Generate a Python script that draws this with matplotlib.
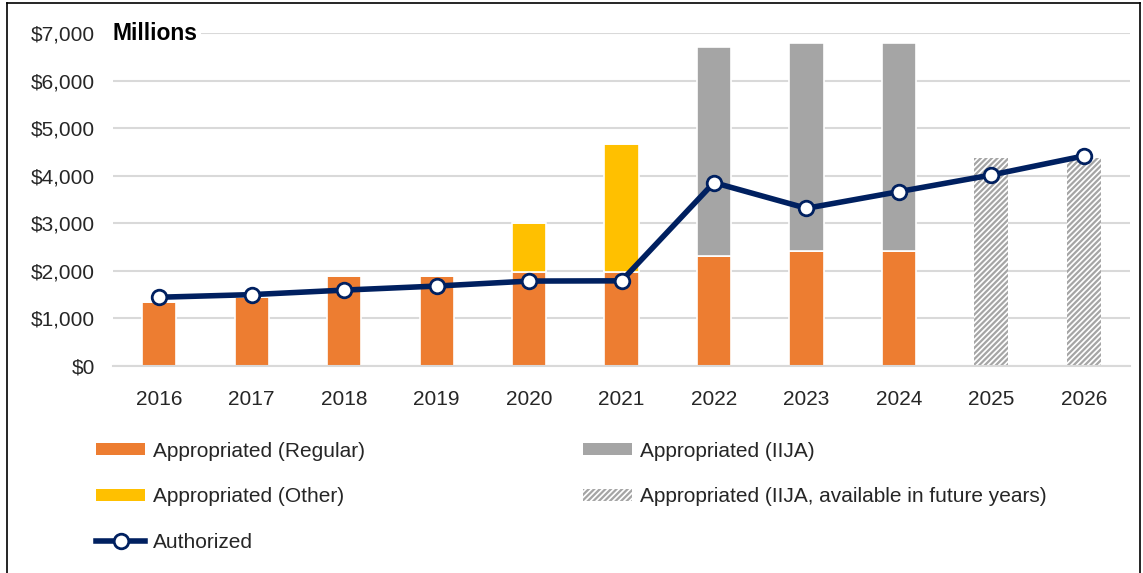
import matplotlib.pyplot as plt
import numpy as np
from matplotlib.lines import Line2D
from matplotlib.patches import Patch

plt.rcParams["font.family"] = ["Liberation Sans", "DejaVu Sans"]
plt.rcParams["hatch.linewidth"] = 1.6

years = ["2016", "2017", "2018", "2019", "2020", "2021",
         "2022", "2023", "2024", "2025", "2026"]
regular = [1350, 1440, 1890, 1890, 1975, 1975, 2310, 2420, 2420, 0, 0]
other = [0, 0, 0, 0, 1025, 2690, 0, 0, 0, 0, 0]
iija = [0, 0, 0, 0, 0, 0, 4390, 4380, 4380, 0, 0]
iija_future = [0, 0, 0, 0, 0, 0, 0, 0, 0, 4370, 4370]
authorized = [1445, 1500, 1595, 1680, 1785, 1790, 3855, 3315, 3665, 4015, 4415]

C_REG = "#ED7D31"
C_OTHER = "#FFC000"
C_IIJA = "#A5A5A5"
C_AUTH = "#002060"

fig = plt.figure(figsize=(11.43, 5.73), dpi=100)
ax = fig.add_axes([0.0989, 0.3613, 0.8897, 0.5811])

x = np.arange(len(years))
w = 0.37
reg = np.array(regular)
oth = np.array(other)

ax.bar(x, reg, width=w, color=C_REG, edgecolor="white", linewidth=1.2, zorder=2)
ax.bar(x, oth, width=w, bottom=reg, color=C_OTHER, edgecolor="white",
       linewidth=1.2, zorder=2)
ax.bar(x, iija, width=w, bottom=reg + oth, color=C_IIJA, edgecolor="white",
       linewidth=1.2, zorder=2)
ax.bar(x, iija_future, width=w, color="white", edgecolor=C_IIJA, hatch="//////",
       linewidth=0, zorder=2)

ax.plot(x, authorized, color=C_AUTH, linewidth=4, marker="o", markersize=10.5,
        markerfacecolor="white", markeredgecolor=C_AUTH, markeredgewidth=2,
        zorder=4)

ax.set_xlim(-0.5, len(years) - 0.5)
ax.set_ylim(0, 7000)
ax.set_yticks(np.arange(0, 7001, 1000))
ax.set_yticklabels([f"${v:,}" for v in range(0, 7001, 1000)])
ax.set_xticks(x)
ax.set_xticklabels(years)
ax.tick_params(axis="both", length=0, labelsize=15, colors="#262626")
ax.tick_params(axis="x", pad=17)
ax.tick_params(axis="y", pad=13)
ax.grid(axis="y", color="#d9d9d9", linewidth=1.5, zorder=0)
ax.set_axisbelow(True)
for s in ["top", "right", "left"]:
    ax.spines[s].set_visible(False)
ax.spines["bottom"].set_color("#d9d9d9")
ax.spines["bottom"].set_linewidth(1.5)

fig.text(0.098, 0.9424, "Millions", fontsize=16.5, fontweight="bold",
         va="center", ha="left",
         bbox=dict(facecolor="white", edgecolor="none", pad=3))

handles = [
    Patch(facecolor=C_REG, edgecolor="none"),
    Patch(facecolor=C_OTHER, edgecolor="none"),
    Line2D([], [], color=C_AUTH, linewidth=4, marker="o", markersize=10.5,
           markerfacecolor="white", markeredgecolor=C_AUTH, markeredgewidth=2),
    Patch(facecolor=C_IIJA, edgecolor="none"),
    Patch(facecolor="white", edgecolor=C_IIJA, hatch="//////", linewidth=0),
]
labels = ["Appropriated (Regular)", "Appropriated (Other)", "Authorized",
          "Appropriated (IIJA)",
          "Appropriated (IIJA, available in future years)"]
fig.legend(handles, labels, ncol=2, loc="upper left",
           bbox_to_anchor=(0.068, 0.262), frameon=False, fontsize=15,
           handlelength=2.35, handleheight=0.5, handletextpad=0.35,
           labelspacing=1.27, columnspacing=10.5, labelcolor="#262626")

fig.add_artist(Line2D([7 / 1143, 7 / 1143], [0, 1 - 3 / 573],
                      transform=fig.transFigure, color="black", linewidth=1.2))
fig.add_artist(Line2D([7 / 1143, 1140 / 1143], [1 - 3 / 573, 1 - 3 / 573],
                      transform=fig.transFigure, color="black", linewidth=1.2))
fig.add_artist(Line2D([1140 / 1143, 1140 / 1143], [0, 1 - 3 / 573],
                      transform=fig.transFigure, color="black", linewidth=1.2))

fig.savefig("out.png", dpi=100)
